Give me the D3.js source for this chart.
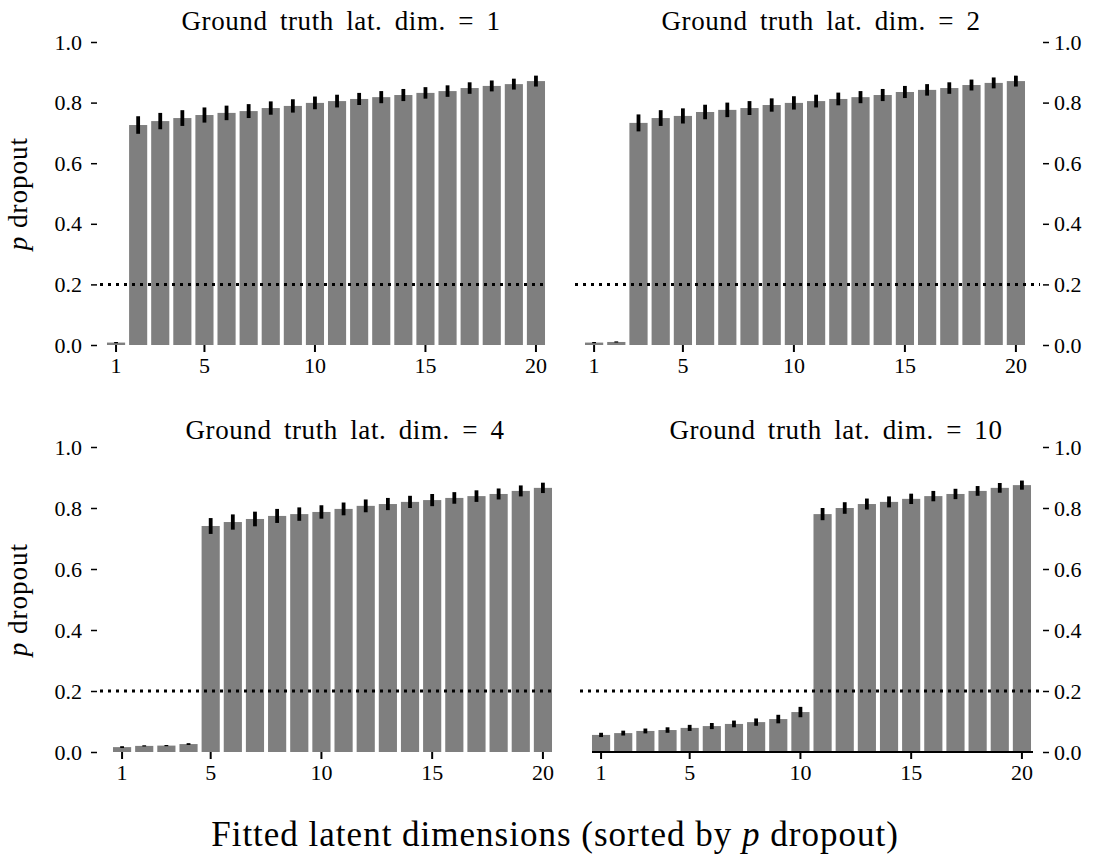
<!DOCTYPE html>
<html>
<head>
<meta charset="utf-8">
<script src="https://cdnjs.cloudflare.com/ajax/libs/d3/7.8.5/d3.min.js"></script>
<style>
  body { margin: 0; background: #fff; }
  text { font-family: "Liberation Serif", "DejaVu Serif", serif; fill: #000; }
</style>
</head>
<body>
<div id="chart"></div>
<script>
// fitted latent dimensions (x categories)
var dims = [1,2,3,4,5,6,7,8,9,10,11,12,13,14,15,16,17,18,19,20];
var xTicks = [1,5,10,15,20];
var yTicks = [0.0,0.2,0.4,0.6,0.8,1.0];
var threshold = 0.2;

var titles = ["Ground truth lat. dim. = 1", "Ground truth lat. dim. = 2",
              "Ground truth lat. dim. = 4", "Ground truth lat. dim. = 10"];

// p dropout per fitted dimension, one array per panel
var pDim1  = [0.008,0.726,0.739,0.749,0.759,0.766,0.772,0.782,0.789,0.799,0.805,0.812,0.818,0.825,0.832,0.838,0.848,0.855,0.861,0.871];
var pDim2  = [0.008,0.010,0.733,0.749,0.756,0.769,0.776,0.782,0.792,0.799,0.805,0.812,0.818,0.825,0.835,0.842,0.848,0.858,0.865,0.871];
var pDim4  = [0.016,0.020,0.021,0.026,0.741,0.754,0.764,0.774,0.780,0.787,0.797,0.807,0.813,0.820,0.826,0.833,0.839,0.846,0.856,0.866];
var pDim10 = [0.056,0.062,0.069,0.072,0.079,0.085,0.092,0.098,0.108,0.131,0.780,0.800,0.813,0.820,0.830,0.839,0.846,0.856,0.866,0.875];

// half length of error bars
var eDim1  = [0.002,0.029,0.027,0.026,0.025,0.024,0.023,0.022,0.022,0.021,0.021,0.020,0.020,0.020,0.019,0.019,0.019,0.018,0.018,0.018];
var eDim2  = [0.002,0.002,0.028,0.026,0.025,0.024,0.024,0.023,0.022,0.022,0.021,0.021,0.020,0.020,0.020,0.019,0.019,0.018,0.018,0.018];
var eDim4  = [0.003,0.002,0.002,0.003,0.026,0.025,0.024,0.023,0.022,0.022,0.021,0.021,0.020,0.020,0.020,0.019,0.019,0.018,0.018,0.017];
var eDim10 = [0.007,0.008,0.008,0.009,0.010,0.010,0.011,0.012,0.014,0.017,0.020,0.019,0.018,0.018,0.017,0.017,0.017,0.016,0.016,0.015];

var W = 1106, H = 866;
var svg = d3.select("#chart").append("svg").attr("width", W).attr("height", H);

// panel geometry
var panels = [
  {p: pDim1,  e: eDim1,  title: titles[0], tx: 341, ty: 30,  x0: 105, x1: 547,  top: 42,  bot: 345, side: "left",  dot: [100, 548], base: false},
  {p: pDim2,  e: eDim2,  title: titles[1], tx: 821, ty: 30,  x0: 583, x1: 1027, top: 42,  bot: 345, side: "right", dot: [575, 1040], base: false},
  {p: pDim4,  e: eDim4,  title: titles[2], tx: 345, ty: 439, x0: 111, x1: 554,  top: 447, bot: 752, side: "left",  dot: [100, 555], base: false},
  {p: pDim10, e: eDim10, title: titles[3], tx: 836, ty: 439, x0: 590, x1: 1033, top: 447, bot: 752, side: "right", dot: [580, 1040], base: true}
];

panels.forEach(function(pn){
  var x = d3.scaleBand().domain(dims).range([pn.x0, pn.x1]).paddingInner(0.18).paddingOuter(0.09);
  var y = d3.scaleLinear().domain([0, 1]).range([pn.bot, pn.top]);
  var g = svg.append("g");

  // bars
  g.selectAll("rect.bar").data(pn.p).enter().append("rect")
    .attr("class","bar")
    .attr("x", function(d,i){ return x(dims[i]); })
    .attr("width", x.bandwidth())
    .attr("y", function(d){ return y(d); })
    .attr("height", function(d){ return pn.bot - y(d); })
    .attr("fill", "#7f7f7f");

  // error bars
  g.selectAll("line.err").data(pn.p).enter().append("line")
    .attr("x1", function(d,i){ return x(dims[i]) + x.bandwidth()/2; })
    .attr("x2", function(d,i){ return x(dims[i]) + x.bandwidth()/2; })
    .attr("y1", function(d,i){ return y(d - pn.e[i]); })
    .attr("y2", function(d,i){ return y(d + pn.e[i]); })
    .attr("stroke", "#000").attr("stroke-width", 3.8);

  // dotted threshold
  g.append("line")
    .attr("x1", pn.dot[0]).attr("x2", pn.dot[1])
    .attr("y1", y(threshold)).attr("y2", y(threshold))
    .attr("stroke", "#000").attr("stroke-width", 3)
    .attr("stroke-dasharray", "3,5");

  if (pn.base) {
    g.append("line").attr("x1", pn.x0 + 2).attr("x2", pn.x1)
      .attr("y1", pn.bot).attr("y2", pn.bot)
      .attr("stroke", "#000").attr("stroke-width", 2);
  }

  // x axis
  var xa = d3.axisBottom(x).tickValues(xTicks).tickSize(7).tickPadding(5);
  var gx = g.append("g").attr("transform", "translate(0," + pn.bot + ")").call(xa);
  gx.select(".domain").remove();
  gx.selectAll(".tick line").attr("stroke-width", 2);
  gx.selectAll(".tick text").style("font-size", "22px");

  // y axis
  var ya, gy;
  if (pn.side === "left") {
    ya = d3.axisLeft(y).tickValues(yTicks).tickFormat(d3.format(".1f")).tickSize(6).tickPadding(9);
    gy = g.append("g").attr("transform", "translate(97,0)").call(ya);
  } else {
    ya = d3.axisRight(y).tickValues(yTicks).tickFormat(d3.format(".1f")).tickSize(6).tickPadding(5);
    gy = g.append("g").attr("transform", "translate(1043,0)").call(ya);
  }
  gy.select(".domain").remove();
  gy.selectAll(".tick line").attr("stroke-width", 1.5);
  gy.selectAll(".tick text").style("font-size", "22px");

  // panel title
  g.append("text")
    .attr("x", pn.tx)
    .attr("y", pn.ty)
    .attr("text-anchor", "middle")
    .style("font-size", "27px")
    .style("letter-spacing", "0.6px")
    .style("word-spacing", "5px")
    .text(pn.title);

  // y label on left panels
  if (pn.side === "left") {
    var yl = g.append("text")
      .attr("transform", "translate(27," + ((pn.top + pn.bot) / 2) + ") rotate(-90)")
      .attr("text-anchor", "middle")
      .style("font-size", "27px")
      .style("letter-spacing", "1px");
    yl.append("tspan").style("font-style", "italic").text("p");
    yl.append("tspan").text(" dropout");
  }
});

// shared x label
var xl = svg.append("text")
  .attr("x", 555).attr("y", 846)
  .attr("text-anchor", "middle")
  .style("font-size", "35px")
  .style("letter-spacing", "1px");
xl.append("tspan").text("Fitted latent dimensions (sorted by ");
xl.append("tspan").style("font-style", "italic").text("p");
xl.append("tspan").text(" dropout)");
</script>
</body>
</html>
